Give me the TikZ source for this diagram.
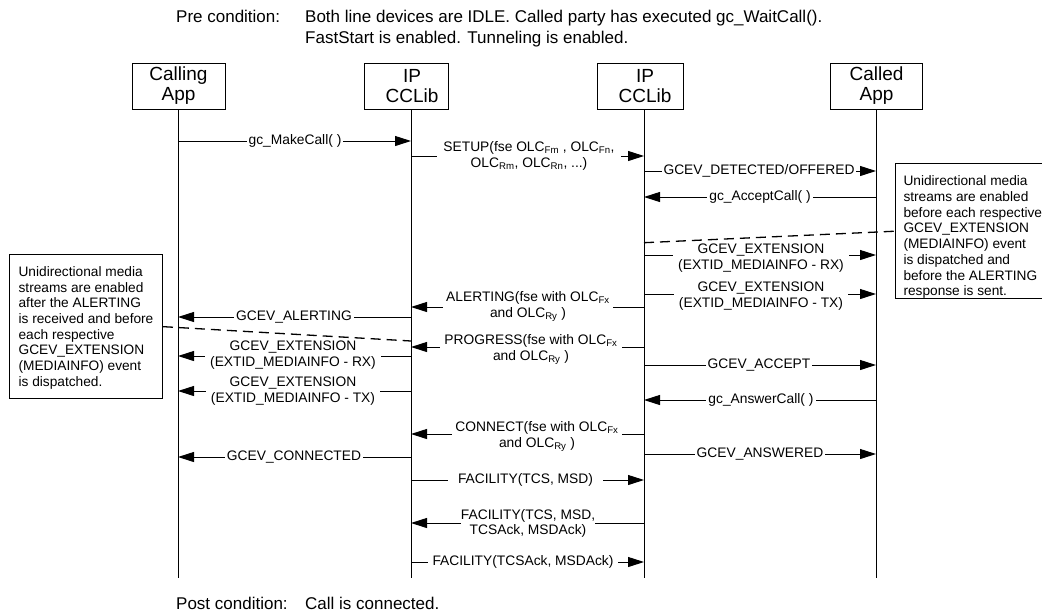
\documentclass[tikz,border=0pt]{standalone}
\usepackage{fontspec}
\setmainfont{Liberation Sans}
\usetikzlibrary{arrows.meta}
\newcommand\sbs[1]{\textsubscript{#1}}
\newcommand\shiftln[2]{\hspace*{#1}#2}
% name, x1, x2, y, label x, label y, text, inner xsep
\newcommand\seqmsg[8]{%
  \coordinate (#1a) at (#2,#4);
  \coordinate (#1b) at (#3,#4);
  \draw[msg] (#1a) -- (#1b);
  \node[lbl, inner xsep=#8] (#1) at (#5,#6) {#7};
}
\tikzset{
  actor/.style={draw, line width=1pt, minimum height=46pt, align=center,
    font=\fontsize{19}{20}\selectfont, inner sep=0pt},
  life/.style={line width=1pt},
  msg/.style={line width=1pt, -{Triangle[length=16pt,width=10pt]}},
  lbl/.style={fill=white, inner ysep=0.5pt, align=center,
    font=\fontsize{13.8}{15.7}\selectfont},
  note/.style={draw, line width=1pt, align=left, inner xsep=8pt, inner ysep=0pt,
    font=\fontsize{13.7}{15.7}\selectfont, anchor=north west},
  guide/.style={line width=1.3pt, dash pattern=on 10pt off 6pt},
  cond/.style={anchor=base west, inner sep=0pt, font=\fontsize{17}{17}\selectfont},
}
\begin{document}
\begin{tikzpicture}[x=1pt, y=-1pt]
\useasboundingbox (0,0) rectangle (1042,611);

% conditions
\node[cond] (pre) at (176,22) {Pre condition:};
\node[cond] (pre1) at (305,22) {Both line devices are IDLE. Called party has executed gc\_WaitCall().};
\node[cond] (pre2) at (305,43) {FastStart is enabled. Tunneling is enabled.};
\node[cond] (post) at (176,609) {Post condition:};
\node[cond] (post1) at (305,609) {Call is connected.};

% actors
\node[actor, minimum width=93pt] (calling) at (178.5,86) {Calling\\App};
\node[actor, minimum width=84pt] (ip1) at (406,86) {\shiftln{12pt}{IP}\\\shiftln{12pt}{CCLib}};
\node[actor, minimum width=86pt] (ip2) at (640,86) {\shiftln{10pt}{IP}\\\shiftln{10pt}{CCLib}};
\node[actor, minimum width=92pt] (called) at (876.5,86) {Called\\App};

% lifelines
\coordinate (cl) at (178,578);
\coordinate (i1) at (411,578);
\coordinate (i2) at (644,578);
\coordinate (cd) at (876,578);
\draw[life] (cl |- calling.south) -- (cl);
\draw[life] (i1 |- ip1.south) -- (i1);
\draw[life] (i2 |- ip2.south) -- (i2);
\draw[life] (cd |- called.south) -- (cd);

% notes
\node[note] (rnote) at (895,163) {\rule{0pt}{22.3pt}Unidirectional media\\streams are enabled\\before each respective\\GCEV\_EXTENSION\\(MEDIAINFO) event\\is dispatched and\\before the ALERTING\\response is sent.\rule[-3.2pt]{0pt}{3.2pt}};
\node[note, minimum width=153pt] (lnote) at (9,254) {\rule{0pt}{21.9pt}Unidirectional media\\streams are enabled\\after the ALERTING\\is received and before\\each respective\\GCEV\_EXTENSION\\(MEDIAINFO) event\\is dispatched.\rule[-12.5pt]{0pt}{12.5pt}};

\coordinate (dr) at (644,242.7);
\coordinate (dl) at (411,341);
\draw[guide] (dr) -- (rnote.west);
\draw[guide] (lnote.east) -- (dl);

% messages
\seqmsg{m1}{178}{411}{141}{295}{141}{gc\_MakeCall( )}{2pt}
\seqmsg{m2}{411}{644}{156}{529}{156}{SETUP(fse OLC\sbs{Fm} , OLC\sbs{Fn},\\OLC\sbs{Rm}, OLC\sbs{Rn}, ...)}{6pt}
\seqmsg{m3}{644}{876}{171}{759}{171}{GCEV\_DETECTED/OFFERED}{1.5pt}
\seqmsg{m4}{876}{644}{197}{760}{197}{gc\_AcceptCall( )}{2pt}
\seqmsg{m5}{644}{876}{255}{761}{258}{GCEV\_EXTENSION\\(EXTID\_MEDIAINFO - RX)}{5pt}
\seqmsg{m6}{644}{876}{294}{761}{296}{GCEV\_EXTENSION\\(EXTID\_MEDIAINFO - TX)}{5pt}
\seqmsg{m7}{644}{411}{307}{528}{306.5}{ALERTING(fse with OLC\sbs{Fx}\\and OLC\sbs{Ry} )}{3pt}
\seqmsg{m8}{411}{178}{317}{294}{317}{GCEV\_ALERTING}{2pt}
\seqmsg{m9}{644}{411}{347}{531}{349.5}{PROGRESS(fse with OLC\sbs{Fx}\\and OLC\sbs{Ry} )}{4pt}
\seqmsg{m10}{411}{178}{356}{293}{355}{GCEV\_EXTENSION\\(EXTID\_MEDIAINFO - RX)}{5pt}
\seqmsg{m11}{411}{178}{391}{293}{391}{GCEV\_EXTENSION\\(EXTID\_MEDIAINFO - TX)}{5pt}
\seqmsg{m12}{644}{876}{365}{759}{365}{GCEV\_ACCEPT}{2pt}
\seqmsg{m13}{876}{644}{400}{761}{400}{gc\_AnswerCall( )}{2pt}
\seqmsg{m14}{644}{411}{434}{537}{436.5}{CONNECT(fse with OLC\sbs{Fx}\\and OLC\sbs{Ry} )}{3pt}
\seqmsg{m15}{644}{876}{454}{760}{454}{GCEV\_ANSWERED}{2pt}
\seqmsg{m16}{411}{178}{457}{294}{457}{GCEV\_CONNECTED}{2pt}
\seqmsg{m17}{411}{644}{480}{525.5}{480}{FACILITY(TCS, MSD)}{10pt}
\seqmsg{m18}{644}{411}{523}{528}{523.5}{FACILITY(TCS, MSD,\\TCSAck, MSDAck)}{0pt}
\seqmsg{m19}{411}{644}{562}{523}{562}{FACILITY(TCSAck, MSDAck)}{5pt}
\end{tikzpicture}
\end{document}
